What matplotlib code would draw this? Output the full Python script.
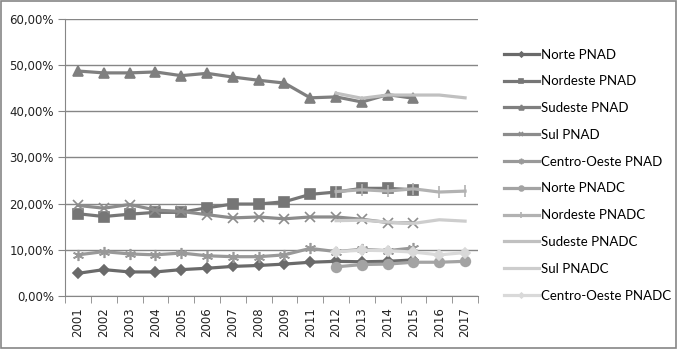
# %% Taxa por região - PNAD x PNADC

import numpy as np
import matplotlib.pyplot as plt
from matplotlib.patches import Rectangle

# %% Data (percent)

years = ['2001', '2002', '2003', '2004', '2005', '2006', '2007', '2008', '2009',
         '2011', '2012', '2013', '2014', '2015', '2016', '2017']
nan = np.nan

norte_pnad = [4.9, 5.7, 5.2, 5.2, 5.7, 6.0, 6.4, 6.6, 6.9, 7.3, 7.5, 7.4, 7.5, 7.8, nan, nan]
nordeste_pnad = [17.8, 17.2, 17.7, 18.1, 18.1, 19.1, 19.9, 19.9, 20.4, 22.0, 22.5, 23.3, 23.3, 23.0, nan, nan]
sudeste_pnad = [48.7, 48.3, 48.3, 48.5, 47.7, 48.2, 47.4, 46.7, 46.1, 42.9, 43.1, 42.0, 43.6, 42.8, nan, nan]
sul_pnad = [19.6, 19.0, 19.8, 18.6, 18.3, 17.6, 16.9, 17.1, 16.7, 17.1, 17.1, 16.6, 15.9, 15.8, nan, nan]
centro_oeste_pnad = [8.9, 9.6, 9.1, 8.9, 9.3, 8.7, 8.5, 8.5, 8.9, 10.3, 9.6, 10.1, 9.8, 10.4, nan, nan]

norte_pnadc = [nan] * 10 + [6.3, 6.8, 6.9, 7.3, 7.3, 7.5]
nordeste_pnadc = [nan] * 10 + [22.6, 23.0, 22.7, 23.2, 22.5, 22.7]
sudeste_pnadc = [nan] * 10 + [43.9, 42.8, 43.5, 43.5, 43.5, 42.9]
sul_pnadc = [nan] * 10 + [16.3, 16.4, 16.0, 15.7, 16.5, 16.2]
centro_oeste_pnadc = [nan] * 10 + [9.6, 9.9, 9.8, 9.5, 8.9, 9.4]

series = [
    ('Norte PNAD', norte_pnad, '#6a6a6a', 'D', 5),
    ('Nordeste PNAD', nordeste_pnad, '#767676', 's', 7),
    ('Sudeste PNAD', sudeste_pnad, '#7f7f7f', '^', 7),
    ('Sul PNAD', sul_pnad, '#8c8c8c', 'x', 7),
    ('Centro-Oeste PNAD', centro_oeste_pnad, '#999999', (6, 2, 0), 8),
    ('Norte PNADC', norte_pnadc, '#a3a3a3', 'o', 7),
    ('Nordeste PNADC', nordeste_pnadc, '#b2b2b2', '|', 9),
    ('Sudeste PNADC', sudeste_pnadc, '#c0c0c0', None, 0),
    ('Sul PNADC', sul_pnadc, '#cdcdcd', None, 0),
    ('Centro-Oeste PNADC', centro_oeste_pnadc, '#d9d9d9', 'D', 5),
]

# %% Plot

fig = plt.figure(figsize=(6.78, 3.49), dpi=100)
fig.set_facecolor('white')
ax = fig.add_axes([0.096, 0.152, 0.609, 0.794])

x = np.arange(len(years))
for name, vals, col, mk, ms in series:
    ax.plot(x, vals, color=col, lw=2.3, marker=mk, markersize=ms,
            markeredgewidth=1.2, label=name, zorder=3)

ax.set_xlim(-0.5, len(years) - 0.5)
ax.set_ylim(0, 60)
ax.set_yticks(np.arange(0, 61, 10))
ax.set_yticklabels([f'{v:.2f}%'.replace('.', ',') for v in range(0, 61, 10)],
                   fontsize=8.5, color='#222222')
ax.set_xticks(x)
ax.set_xticklabels(years, rotation=90, fontsize=8.5, color='#222222')
ax.set_xticks(np.arange(-0.5, len(years)), minor=True)
ax.tick_params(axis='x', which='major', length=0, pad=8)
ax.tick_params(axis='x', which='minor', length=5, color='#868686')
ax.tick_params(axis='y', length=5, color='#868686', pad=3)

ax.grid(axis='y', color='#868686', lw=1, zorder=0)
for s in ['top', 'right']:
    ax.spines[s].set_visible(False)
ax.spines['left'].set_color('#868686')
ax.spines['bottom'].set_color('#868686')

fig.legend(loc='upper left', bbox_to_anchor=(0.735, 0.876), frameon=False,
           prop={'family': 'Lato', 'size': 9.5}, labelspacing=1.12,
           handlelength=2.7, handletextpad=0.1, borderaxespad=0, markerscale=0.5)

# Outer frame
fig.patches.append(Rectangle((0.002, 0.003), 0.995, 0.994, transform=fig.transFigure,
                             fill=False, edgecolor='#868686', lw=1.2))

fig.savefig('out.png', dpi=100)
